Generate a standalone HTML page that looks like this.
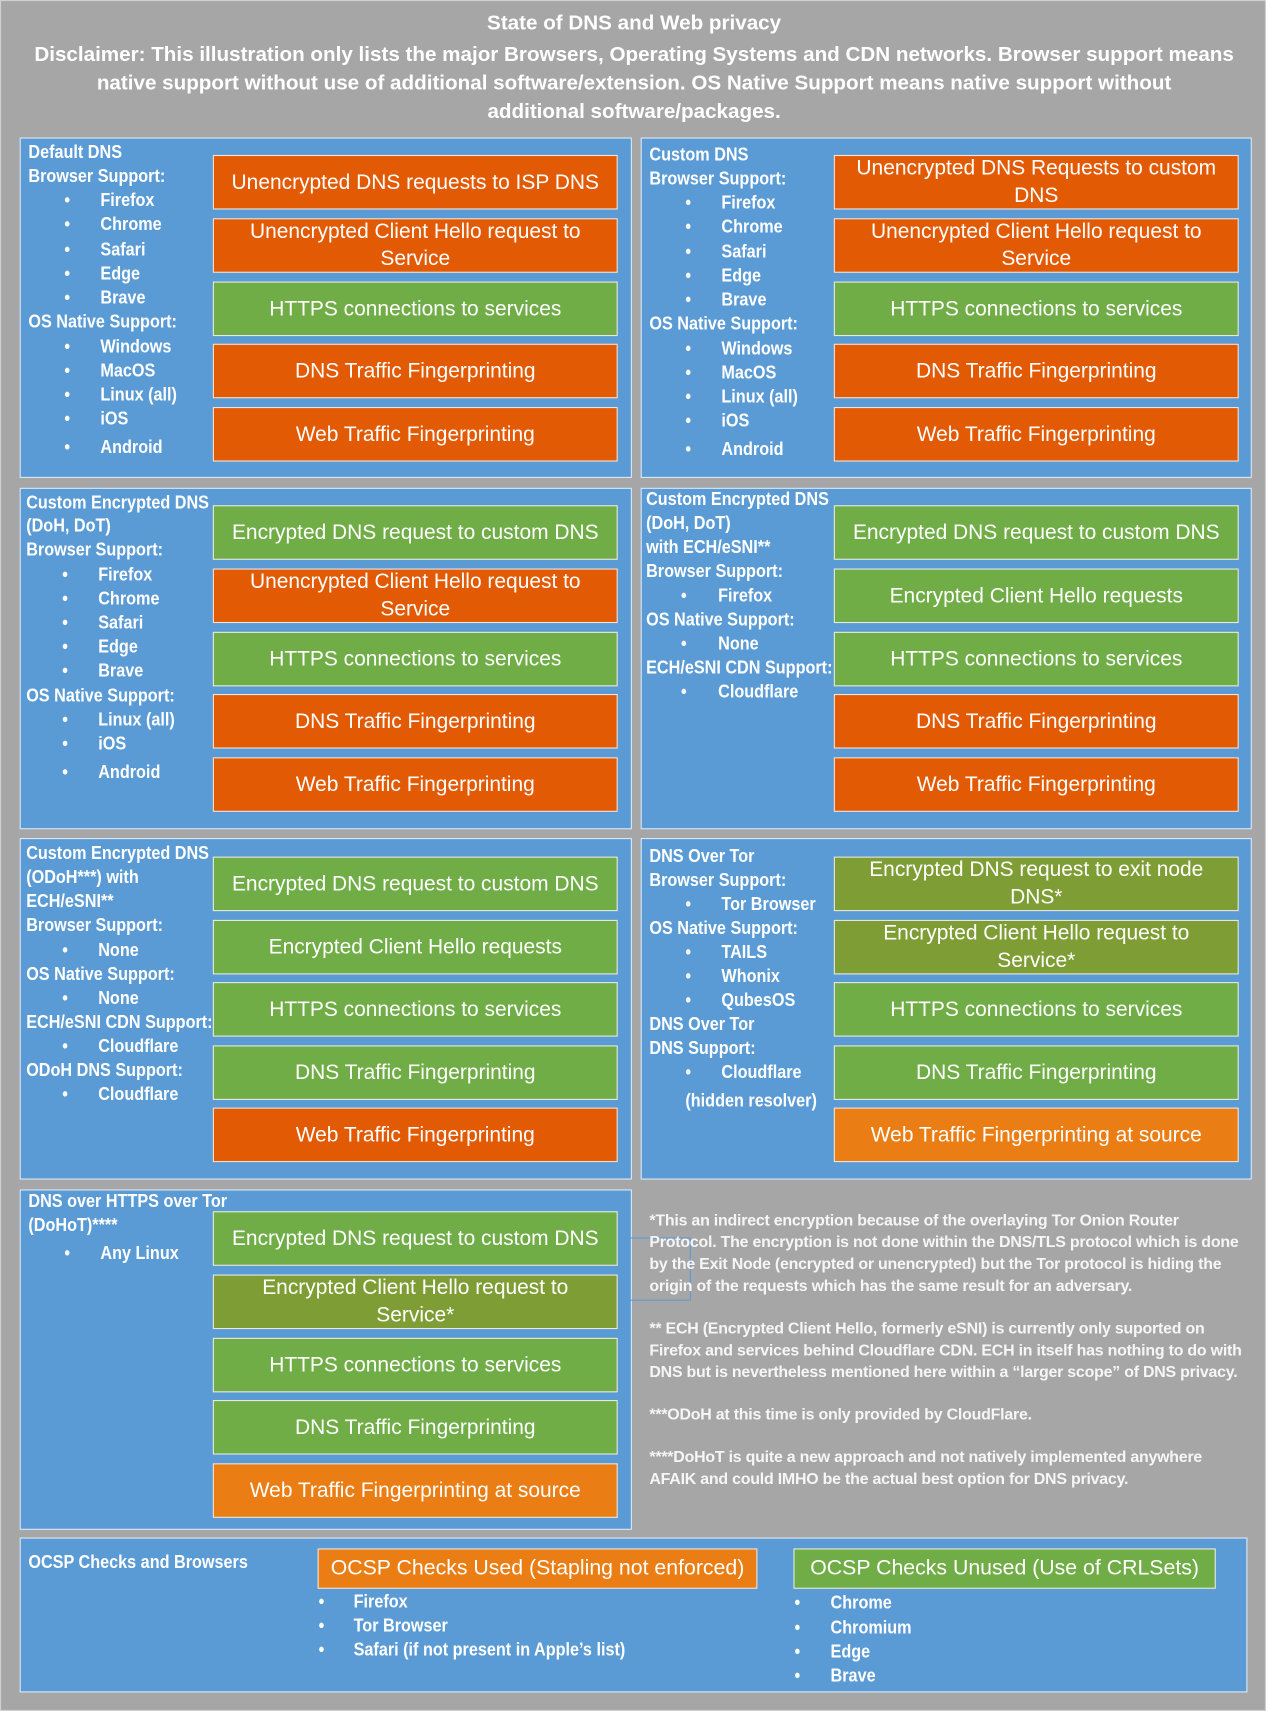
<!DOCTYPE html>
<html><head><meta charset="utf-8"><style>
html,body{margin:0;padding:0;width:1266px;height:1711px;overflow:hidden;background:#a6a6a6}
#w{position:absolute;left:0;top:0;width:1160px;height:1568px;transform:scale(1.09138,1.0912);transform-origin:0 0;background:#a6a6a6;font-family:"Liberation Sans",sans-serif;color:#fff;border:1px solid #d0d0d0;box-sizing:border-box}
.p{position:absolute;background:#5b9bd5;border:1px solid #dfe9f5;box-sizing:border-box}
.b{position:absolute;width:371px;height:50px;box-sizing:border-box;border:1px solid #e8e8e8;display:flex;align-items:center;justify-content:center;text-align:center;font-size:19.2px;line-height:25px;color:#fff}
.r{background:#e35a05}.g{background:#70ad47}.o{background:#7f9d35}.y{background:#ea7d13}
.t{position:absolute;font-family:"Liberation Sans Narrow","Liberation Sans",sans-serif;font-weight:bold;font-size:16.5px;line-height:20px;white-space:nowrap;transform:scaleX(0.9);transform-origin:0 0}
.h{position:absolute;left:0;width:1160px;text-align:center;font-weight:bold;font-size:18.9px;white-space:nowrap}
.f{position:absolute;left:594px;font-size:14.6px;font-weight:bold;white-space:nowrap;line-height:20px;color:#f6f6f6;letter-spacing:-0.2px}
</style></head><body><div id="w">
<div class="h" style="top:10px">State of DNS and Web privacy</div>
<div class="h" style="top:39px">Disclaimer: This illustration only lists the major Browsers, Operating Systems and CDN networks. Browser support means</div>
<div class="h" style="top:65px">native support without use of additional software/extension. OS Native Support means native support without</div>
<div class="h" style="top:91px">additional software/packages.</div>

<div class="p" style="left:17px;top:125px;width:561px;height:312px"></div>
<div class="p" style="left:586px;top:125px;width:560px;height:312px"></div>
<div class="p" style="left:17px;top:446px;width:561px;height:313px"></div>
<div class="p" style="left:586px;top:446px;width:560px;height:313px"></div>
<div class="p" style="left:17px;top:767px;width:561px;height:313px"></div>
<div class="p" style="left:586px;top:767px;width:560px;height:313px"></div>
<div class="p" style="left:17px;top:1089px;width:561px;height:312px"></div>
<div class="p" style="left:17px;top:1408px;width:1125px;height:142px"></div>
<div style="position:absolute;left:566px;top:1133px;width:66px;height:58px;border:1px solid #5b9bd5;box-sizing:border-box"></div>

<!-- P1 -->
<div class="b r" style="left:194px;top:141px">Unencrypted DNS requests to ISP DNS</div>
<div class="b r" style="left:194px;top:199px">Unencrypted Client Hello request to<br>Service</div>
<div class="b g" style="left:194px;top:257px">HTTPS connections to services</div>
<div class="b r" style="left:194px;top:314px">DNS Traffic Fingerprinting</div>
<div class="b r" style="left:194px;top:372px">Web Traffic Fingerprinting</div>
<div class="t" style="left:25px;top:129px">Default DNS</div>
<div class="t" style="left:25px;top:151px">Browser Support:</div>
<div class="t" style="left:58px;top:173px">•</div><div class="t" style="left:91px;top:173px">Firefox</div>
<div class="t" style="left:58px;top:195px">•</div><div class="t" style="left:91px;top:195px">Chrome</div>
<div class="t" style="left:58px;top:218px">•</div><div class="t" style="left:91px;top:218px">Safari</div>
<div class="t" style="left:58px;top:240px">•</div><div class="t" style="left:91px;top:240px">Edge</div>
<div class="t" style="left:58px;top:262px">•</div><div class="t" style="left:91px;top:262px">Brave</div>
<div class="t" style="left:25px;top:284px">OS Native Support:</div>
<div class="t" style="left:58px;top:307px">•</div><div class="t" style="left:91px;top:307px">Windows</div>
<div class="t" style="left:58px;top:329px">•</div><div class="t" style="left:91px;top:329px">MacOS</div>
<div class="t" style="left:58px;top:351px">•</div><div class="t" style="left:91px;top:351px">Linux (all)</div>
<div class="t" style="left:58px;top:373px">•</div><div class="t" style="left:91px;top:373px">iOS</div>
<div class="t" style="left:58px;top:399px">•</div><div class="t" style="left:91px;top:399px">Android</div>

<!-- P2 -->
<div class="b r" style="left:763px;top:141px">Unencrypted DNS Requests to custom<br>DNS</div>
<div class="b r" style="left:763px;top:199px">Unencrypted Client Hello request to<br>Service</div>
<div class="b g" style="left:763px;top:257px">HTTPS connections to services</div>
<div class="b r" style="left:763px;top:314px">DNS Traffic Fingerprinting</div>
<div class="b r" style="left:763px;top:372px">Web Traffic Fingerprinting</div>
<div class="t" style="left:594px;top:131px">Custom DNS</div>
<div class="t" style="left:594px;top:153px">Browser Support:</div>
<div class="t" style="left:627px;top:175px">•</div><div class="t" style="left:660px;top:175px">Firefox</div>
<div class="t" style="left:627px;top:197px">•</div><div class="t" style="left:660px;top:197px">Chrome</div>
<div class="t" style="left:627px;top:220px">•</div><div class="t" style="left:660px;top:220px">Safari</div>
<div class="t" style="left:627px;top:242px">•</div><div class="t" style="left:660px;top:242px">Edge</div>
<div class="t" style="left:627px;top:264px">•</div><div class="t" style="left:660px;top:264px">Brave</div>
<div class="t" style="left:594px;top:286px">OS Native Support:</div>
<div class="t" style="left:627px;top:309px">•</div><div class="t" style="left:660px;top:309px">Windows</div>
<div class="t" style="left:627px;top:331px">•</div><div class="t" style="left:660px;top:331px">MacOS</div>
<div class="t" style="left:627px;top:353px">•</div><div class="t" style="left:660px;top:353px">Linux (all)</div>
<div class="t" style="left:627px;top:375px">•</div><div class="t" style="left:660px;top:375px">iOS</div>
<div class="t" style="left:627px;top:401px">•</div><div class="t" style="left:660px;top:401px">Android</div>

<!-- P3 -->
<div class="b g" style="left:194px;top:462px">Encrypted DNS request to custom DNS</div>
<div class="b r" style="left:194px;top:520px">Unencrypted Client Hello request to<br>Service</div>
<div class="b g" style="left:194px;top:578px">HTTPS connections to services</div>
<div class="b r" style="left:194px;top:635px">DNS Traffic Fingerprinting</div>
<div class="b r" style="left:194px;top:693px">Web Traffic Fingerprinting</div>
<div class="t" style="left:23px;top:450px">Custom Encrypted DNS</div>
<div class="t" style="left:23px;top:471px">(DoH, DoT)</div>
<div class="t" style="left:23px;top:493px">Browser Support:</div>
<div class="t" style="left:56px;top:516px">•</div><div class="t" style="left:89px;top:516px">Firefox</div>
<div class="t" style="left:56px;top:538px">•</div><div class="t" style="left:89px;top:538px">Chrome</div>
<div class="t" style="left:56px;top:560px">•</div><div class="t" style="left:89px;top:560px">Safari</div>
<div class="t" style="left:56px;top:582px">•</div><div class="t" style="left:89px;top:582px">Edge</div>
<div class="t" style="left:56px;top:604px">•</div><div class="t" style="left:89px;top:604px">Brave</div>
<div class="t" style="left:23px;top:627px">OS Native Support:</div>
<div class="t" style="left:56px;top:649px">•</div><div class="t" style="left:89px;top:649px">Linux (all)</div>
<div class="t" style="left:56px;top:671px">•</div><div class="t" style="left:89px;top:671px">iOS</div>
<div class="t" style="left:56px;top:697px">•</div><div class="t" style="left:89px;top:697px">Android</div>

<!-- P4 -->
<div class="b g" style="left:763px;top:462px">Encrypted DNS request to custom DNS</div>
<div class="b g" style="left:763px;top:520px">Encrypted Client Hello requests</div>
<div class="b g" style="left:763px;top:578px">HTTPS connections to services</div>
<div class="b r" style="left:763px;top:635px">DNS Traffic Fingerprinting</div>
<div class="b r" style="left:763px;top:693px">Web Traffic Fingerprinting</div>
<div class="t" style="left:591px;top:447px">Custom Encrypted DNS</div>
<div class="t" style="left:591px;top:469px">(DoH, DoT)</div>
<div class="t" style="left:591px;top:491px">with ECH/eSNI**</div>
<div class="t" style="left:591px;top:513px">Browser Support:</div>
<div class="t" style="left:623px;top:535px">•</div><div class="t" style="left:657px;top:535px">Firefox</div>
<div class="t" style="left:591px;top:557px">OS Native Support:</div>
<div class="t" style="left:623px;top:579px">•</div><div class="t" style="left:657px;top:579px">None</div>
<div class="t" style="left:591px;top:601px">ECH/eSNI CDN Support:</div>
<div class="t" style="left:623px;top:623px">•</div><div class="t" style="left:657px;top:623px">Cloudflare</div>

<!-- P5 -->
<div class="b g" style="left:194px;top:784px">Encrypted DNS request to custom DNS</div>
<div class="b g" style="left:194px;top:842px">Encrypted Client Hello requests</div>
<div class="b g" style="left:194px;top:899px">HTTPS connections to services</div>
<div class="b g" style="left:194px;top:957px">DNS Traffic Fingerprinting</div>
<div class="b r" style="left:194px;top:1014px">Web Traffic Fingerprinting</div>
<div class="t" style="left:23px;top:771px">Custom Encrypted DNS</div>
<div class="t" style="left:23px;top:793px">(ODoH***) with</div>
<div class="t" style="left:23px;top:815px">ECH/eSNI**</div>
<div class="t" style="left:23px;top:837px">Browser Support:</div>
<div class="t" style="left:56px;top:860px">•</div><div class="t" style="left:89px;top:860px">None</div>
<div class="t" style="left:23px;top:882px">OS Native Support:</div>
<div class="t" style="left:56px;top:904px">•</div><div class="t" style="left:89px;top:904px">None</div>
<div class="t" style="left:23px;top:926px">ECH/eSNI CDN Support:</div>
<div class="t" style="left:56px;top:948px">•</div><div class="t" style="left:89px;top:948px">Cloudflare</div>
<div class="t" style="left:23px;top:970px">ODoH DNS Support:</div>
<div class="t" style="left:56px;top:992px">•</div><div class="t" style="left:89px;top:992px">Cloudflare</div>

<!-- P6 -->
<div class="b o" style="left:763px;top:784px">Encrypted DNS request to exit node<br>DNS*</div>
<div class="b o" style="left:763px;top:842px">Encrypted Client Hello request to<br>Service*</div>
<div class="b g" style="left:763px;top:899px">HTTPS connections to services</div>
<div class="b g" style="left:763px;top:957px">DNS Traffic Fingerprinting</div>
<div class="b y" style="left:763px;top:1014px">Web Traffic Fingerprinting at source</div>
<div class="t" style="left:594px;top:774px">DNS Over Tor</div>
<div class="t" style="left:594px;top:796px">Browser Support:</div>
<div class="t" style="left:627px;top:818px">•</div><div class="t" style="left:660px;top:818px">Tor Browser</div>
<div class="t" style="left:594px;top:840px">OS Native Support:</div>
<div class="t" style="left:627px;top:862px">•</div><div class="t" style="left:660px;top:862px">TAILS</div>
<div class="t" style="left:627px;top:884px">•</div><div class="t" style="left:660px;top:884px">Whonix</div>
<div class="t" style="left:627px;top:906px">•</div><div class="t" style="left:660px;top:906px">QubesOS</div>
<div class="t" style="left:594px;top:928px">DNS Over Tor</div>
<div class="t" style="left:594px;top:950px">DNS Support:</div>
<div class="t" style="left:627px;top:972px">•</div><div class="t" style="left:660px;top:972px">Cloudflare</div>
<div class="t" style="left:627px;top:998px">(hidden resolver)</div>

<!-- P7 -->
<div class="b g" style="left:194px;top:1109px">Encrypted DNS request to custom DNS</div>
<div class="b o" style="left:194px;top:1167px">Encrypted Client Hello request to<br>Service*</div>
<div class="b g" style="left:194px;top:1225px">HTTPS connections to services</div>
<div class="b g" style="left:194px;top:1282px">DNS Traffic Fingerprinting</div>
<div class="b y" style="left:194px;top:1340px">Web Traffic Fingerprinting at source</div>
<div class="t" style="left:25px;top:1090px">DNS over HTTPS over Tor</div>
<div class="t" style="left:25px;top:1112px">(DoHoT)****</div>
<div class="t" style="left:58px;top:1138px">•</div><div class="t" style="left:91px;top:1138px">Any Linux</div>

<!-- Footnotes -->
<div class="f" style="top:1108px">*This an indirect encryption because of the overlaying Tor Onion Router</div>
<div class="f" style="top:1128px">Protocol. The encryption is not done within the DNS/TLS protocol which is done</div>
<div class="f" style="top:1148px">by the Exit Node (encrypted or unencrypted) but the Tor protocol is hiding the</div>
<div class="f" style="top:1168px">origin of the requests which has the same result for an adversary.</div>
<div class="f" style="top:1207px">** ECH (Encrypted Client Hello, formerly eSNI) is currently only suported on</div>
<div class="f" style="top:1227px">Firefox and services behind Cloudflare CDN. ECH in itself has nothing to do with</div>
<div class="f" style="top:1247px">DNS but is nevertheless mentioned here within a “larger scope” of DNS privacy.</div>
<div class="f" style="top:1286px">***ODoH at this time is only provided by CloudFlare.</div>
<div class="f" style="top:1325px">****DoHoT is quite a new approach and not natively implemented anywhere</div>
<div class="f" style="top:1345px">AFAIK and could IMHO be the actual best option for DNS privacy.</div>

<!-- P8 -->
<div class="t" style="left:25px;top:1421px">OCSP Checks and Browsers</div>
<div class="b y" style="left:290px;top:1418px;width:403px;height:37px;font-size:19.5px">OCSP Checks Used (Stapling not enforced)</div>
<div class="b g" style="left:726px;top:1418px;width:387px;height:37px;font-size:19.5px">OCSP Checks Unused (Use of CRLSets)</div>
<div class="t" style="left:291px;top:1457px">•</div><div class="t" style="left:323px;top:1457px">Firefox</div>
<div class="t" style="left:291px;top:1479px">•</div><div class="t" style="left:323px;top:1479px">Tor Browser</div>
<div class="t" style="left:291px;top:1501px">•</div><div class="t" style="left:323px;top:1501px">Safari (if not present in Apple’s list)</div>
<div class="t" style="left:727px;top:1458px">•</div><div class="t" style="left:760px;top:1458px">Chrome</div>
<div class="t" style="left:727px;top:1481px">•</div><div class="t" style="left:760px;top:1481px">Chromium</div>
<div class="t" style="left:727px;top:1503px">•</div><div class="t" style="left:760px;top:1503px">Edge</div>
<div class="t" style="left:727px;top:1525px">•</div><div class="t" style="left:760px;top:1525px">Brave</div>
</div></body></html>
